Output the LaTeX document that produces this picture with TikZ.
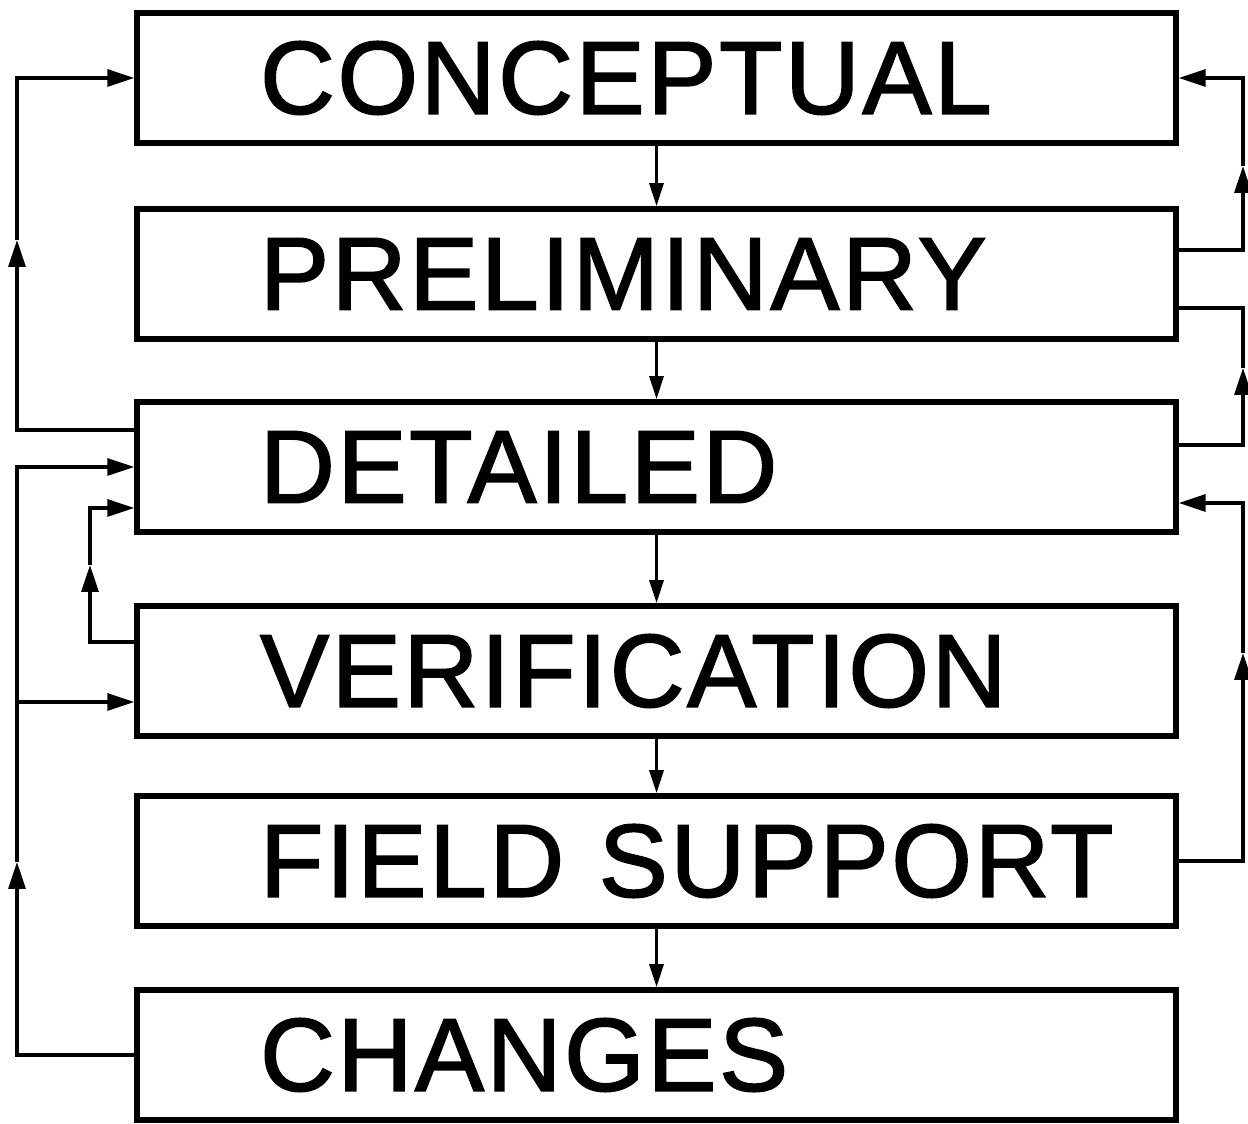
\documentclass[tikz,border=0pt]{standalone}
\usepackage{fontspec}
\newfontfamily\stagefont[FakeBold=1.6,LetterSpace=2.5]{Liberation Sans}
\usepackage{tikz}
\usetikzlibrary{arrows.meta,positioning}
\tikzset{
  stage/.style={draw,line width=3.2pt,minimum height=2.6cm,text width=20.78cm,
    inner xsep=0pt,align=left,font=\stagefont\fontsize{59}{70}\selectfont,
    execute at begin node={\hspace*{2.46cm}}},
  line/.style={line width=1.9pt},
  flow/.style={line,-{Triangle[length=0.54cm,width=0.34cm]}},
  down/.style={line,-{Triangle[length=0.46cm,width=0.28cm]}}
}

\begin{document}
\begin{tikzpicture}[x=0.02cm,y=-0.02cm]
  \useasboundingbox (0,0) rectangle (1248,1124);
  % stages
  \node[stage] (con) at (656.5,78)   {CONCEPTUAL};
  \node[stage] (pre) at (656.5,274)  {PRELIMINARY};
  \node[stage] (det) at (656.5,467)  {DETAILED};
  \node[stage] (ver) at (656.5,671)  {VERIFICATION};
  \node[stage] (fie) at (656.5,861)  {FIELD SUPPORT};
  \node[stage] (cha) at (656.5,1055) {CHANGES};
  % main flow
  \draw[down] (con) -- (pre);
  \draw[down] (pre) -- (det);
  \draw[down] (det) -- (ver);
  \draw[down] (ver) -- (fie);
  \draw[down] (fie) -- (cha);
  % left feedback
  \coordinate (lA) at (17,240);
  \coordinate (lB) at (17,862);
  \coordinate (lC) at (17,702);
  \coordinate (lD) at (90,565);
  \draw[flow] ([yshift=0.74cm]det.west) -| (lA);
  \draw[flow] (lA) |- (con.west);
  \draw[flow] (cha.west) -| (lB);
  \draw[flow] (lB) |- (det.west);
  \draw[flow] (lC) -- (ver.west |- lC);
  \draw[flow] ([yshift=0.58cm]ver.west) -| (lD);
  \draw[flow] (lD) |- ([yshift=-0.82cm]det.west);
  % right feedback
  \coordinate (rA) at (1243,166);
  \coordinate (rB) at (1243,368);
  \coordinate (rC) at (1243,653);
  \draw[flow] ([yshift=0.48cm]pre.east) -| (rA);
  \draw[flow] (rA) |- (con.east);
  \draw[flow] ([yshift=0.44cm]det.east) -| (rB);
  \draw[line] (rB) |- ([yshift=-0.68cm]pre.east);
  \draw[flow] (fie.east) -| (rC);
  \draw[flow] (rC) |- ([yshift=-0.72cm]det.east);
\end{tikzpicture}
\end{document}
